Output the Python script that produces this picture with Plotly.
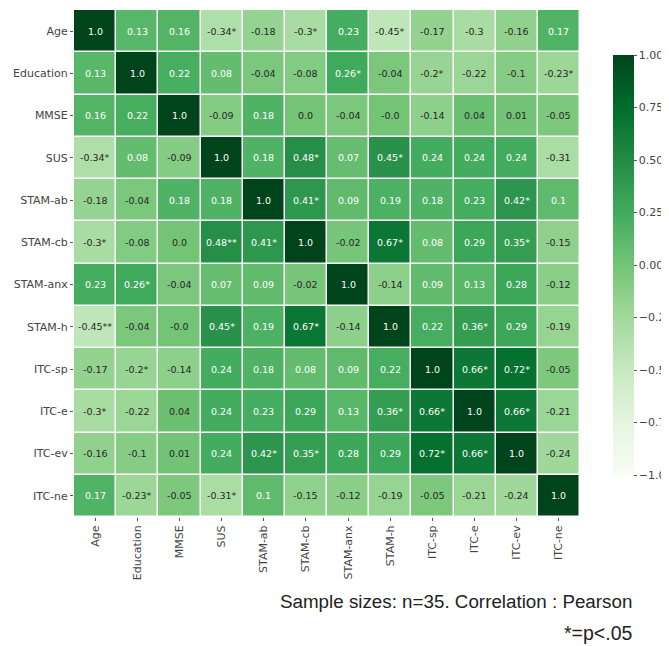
import plotly.graph_objects as go

labels = ["Age", "Education", "MMSE", "SUS", "STAM-ab", "STAM-cb", "STAM-anx",
          "STAM-h", "ITC-sp", "ITC-e", "ITC-ev", "ITC-ne"]

r_age      = [1.0, 0.13, 0.16, -0.34, -0.18, -0.3, 0.23, -0.45, -0.17, -0.3, -0.16, 0.17]
r_edu      = [0.13, 1.0, 0.22, 0.08, -0.04, -0.08, 0.26, -0.04, -0.2, -0.22, -0.1, -0.23]
r_mmse     = [0.16, 0.22, 1.0, -0.09, 0.18, 0.0, -0.04, -0.0, -0.14, 0.04, 0.01, -0.05]
r_sus      = [-0.34, 0.08, -0.09, 1.0, 0.18, 0.48, 0.07, 0.45, 0.24, 0.24, 0.24, -0.31]
r_stam_ab  = [-0.18, -0.04, 0.18, 0.18, 1.0, 0.41, 0.09, 0.19, 0.18, 0.23, 0.42, 0.1]
r_stam_cb  = [-0.3, -0.08, 0.0, 0.48, 0.41, 1.0, -0.02, 0.67, 0.08, 0.29, 0.35, -0.15]
r_stam_anx = [0.23, 0.26, -0.04, 0.07, 0.09, -0.02, 1.0, -0.14, 0.09, 0.13, 0.28, -0.12]
r_stam_h   = [-0.45, -0.04, -0.0, 0.45, 0.19, 0.67, -0.14, 1.0, 0.22, 0.36, 0.29, -0.19]
r_itc_sp   = [-0.17, -0.2, -0.14, 0.24, 0.18, 0.08, 0.09, 0.22, 1.0, 0.66, 0.72, -0.05]
r_itc_e    = [-0.3, -0.22, 0.04, 0.24, 0.23, 0.29, 0.13, 0.36, 0.66, 1.0, 0.66, -0.21]
r_itc_ev   = [-0.16, -0.1, 0.01, 0.24, 0.42, 0.35, 0.28, 0.29, 0.72, 0.66, 1.0, -0.24]
r_itc_ne   = [0.17, -0.23, -0.05, -0.31, 0.1, -0.15, -0.12, -0.19, -0.05, -0.21, -0.24, 1.0]

# cell labels as printed (with significance stars)
t_age      = ["1.0", "0.13", "0.16", "-0.34*", "-0.18", "-0.3*", "0.23", "-0.45*", "-0.17", "-0.3", "-0.16", "0.17"]
t_edu      = ["0.13", "1.0", "0.22", "0.08", "-0.04", "-0.08", "0.26*", "-0.04", "-0.2*", "-0.22", "-0.1", "-0.23*"]
t_mmse     = ["0.16", "0.22", "1.0", "-0.09", "0.18", "0.0", "-0.04", "-0.0", "-0.14", "0.04", "0.01", "-0.05"]
t_sus      = ["-0.34*", "0.08", "-0.09", "1.0", "0.18", "0.48*", "0.07", "0.45*", "0.24", "0.24", "0.24", "-0.31"]
t_stam_ab  = ["-0.18", "-0.04", "0.18", "0.18", "1.0", "0.41*", "0.09", "0.19", "0.18", "0.23", "0.42*", "0.1"]
t_stam_cb  = ["-0.3*", "-0.08", "0.0", "0.48**", "0.41*", "1.0", "-0.02", "0.67*", "0.08", "0.29", "0.35*", "-0.15"]
t_stam_anx = ["0.23", "0.26*", "-0.04", "0.07", "0.09", "-0.02", "1.0", "-0.14", "0.09", "0.13", "0.28", "-0.12"]
t_stam_h   = ["-0.45**", "-0.04", "-0.0", "0.45*", "0.19", "0.67*", "-0.14", "1.0", "0.22", "0.36*", "0.29", "-0.19"]
t_itc_sp   = ["-0.17", "-0.2*", "-0.14", "0.24", "0.18", "0.08", "0.09", "0.22", "1.0", "0.66*", "0.72*", "-0.05"]
t_itc_e    = ["-0.3*", "-0.22", "0.04", "0.24", "0.23", "0.29", "0.13", "0.36*", "0.66*", "1.0", "0.66*", "-0.21"]
t_itc_ev   = ["-0.16", "-0.1", "0.01", "0.24", "0.42*", "0.35*", "0.28", "0.29", "0.72*", "0.66*", "1.0", "-0.24"]
t_itc_ne   = ["0.17", "-0.23*", "-0.05", "-0.31*", "0.1", "-0.15", "-0.12", "-0.19", "-0.05", "-0.21", "-0.24", "1.0"]

cb_ticks = [1.0, 0.75, 0.5, 0.25, 0.0, -0.25, -0.5, -0.75, -1.0]
cb_ticktext = ["1.00", "0.75", "0.50", "0.25", "0.00", "\u22120.25", "\u22120.50", "\u22120.75", "\u22121.00"]

z = [r_age, r_edu, r_mmse, r_sus, r_stam_ab, r_stam_cb, r_stam_anx, r_stam_h,
     r_itc_sp, r_itc_e, r_itc_ev, r_itc_ne]
txt = [t_age, t_edu, t_mmse, t_sus, t_stam_ab, t_stam_cb, t_stam_anx, t_stam_h,
       t_itc_sp, t_itc_e, t_itc_ev, t_itc_ne]

greens = ["#f7fcf5", "#e5f5e0", "#c7e9c0", "#a1d99b", "#74c476",
          "#41ab5d", "#238b45", "#006d2c", "#00441b"]
colorscale = [[i / 8, c] for i, c in enumerate(greens)]

# page body has an 8px margin, so the figure is a bit smaller than the window
W, H = 661, 638
ml, mt = 66, 2
pw, ph = 506, 507
mr = W - ml - pw
mb = H - mt - ph

fig = go.Figure(go.Heatmap(
    z=z, x=labels, y=labels, zmin=-1, zmax=1,
    colorscale=colorscale, xgap=1.5, ygap=1.5,
    colorbar=dict(
        x=(605 - ml) / pw, xanchor="left", xref="paper", xpad=0, ypad=0,
        y=(mt + ph - 257) / ph, yanchor="middle",
        len=420, lenmode="pixels", thickness=21, thicknessmode="pixels",
        outlinewidth=0, tickvals=cb_ticks, ticktext=cb_ticktext,
        ticks="outside", ticklen=3, tickcolor="#555",
        tickfont=dict(family="DejaVu Sans", size=11, color="#444"),
    ),
))

annotations = []
for i, row in enumerate(z):
    for j, v in enumerate(row):
        annotations.append(dict(
            x=labels[j], y=labels[i], text=txt[i][j], showarrow=False,
            font=dict(family="DejaVu Sans", size=9.5,
                      color="#ffffff" if v >= 0.06 else "#262626"),
        ))

annotations.append(dict(
    x=(626 - ml) / pw, y=(mt + ph - 593) / ph, xref="paper", yref="paper",
    xanchor="right", yanchor="middle", showarrow=False,
    text="Sample sizes: n=35. Correlation : Pearson",
    font=dict(family="Liberation Sans", size=18.8, color="#222"),
))
annotations.append(dict(
    x=(626 - ml) / pw, y=(mt + ph - 625) / ph, xref="paper", yref="paper",
    xanchor="right", yanchor="middle", showarrow=False,
    text="*=p<.05",
    font=dict(family="Liberation Sans", size=19.5, color="#222"),
))

fig.update_layout(
    width=W, height=H, margin=dict(l=ml, r=mr, t=mt, b=mb, autoexpand=False),
    paper_bgcolor="white", plot_bgcolor="white",
    annotations=annotations,
    xaxis=dict(tickangle=-90, ticks="outside", ticklen=3, tickcolor="#555",
               tickfont=dict(family="DejaVu Sans", size=11, color="#444"),
               showgrid=False, zeroline=False),
    yaxis=dict(autorange="reversed", ticks="outside", ticklen=3, tickcolor="#555",
               tickfont=dict(family="DejaVu Sans", size=11, color="#444"),
               showgrid=False, zeroline=False),
)

fig.write_html("out.html")
